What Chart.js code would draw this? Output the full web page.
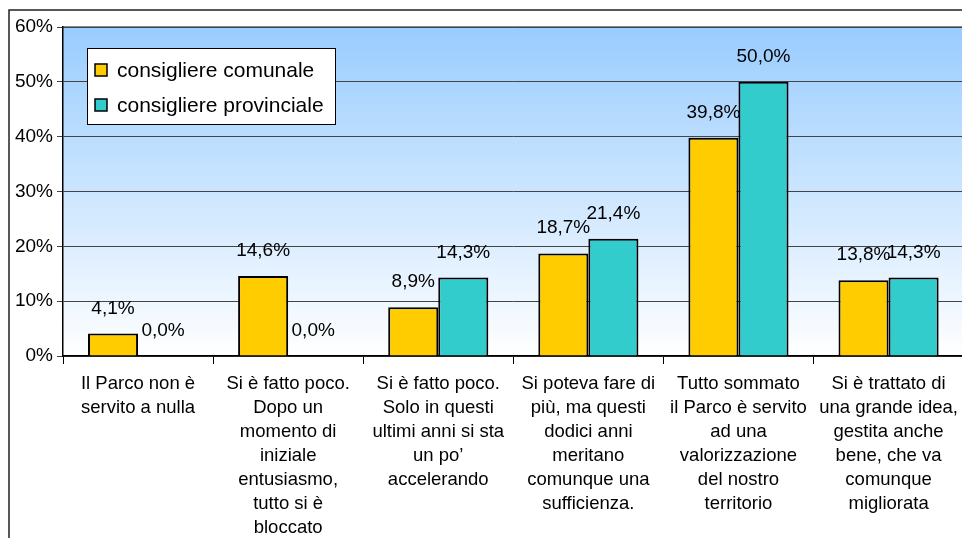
<!DOCTYPE html>
<html>
<head>
<meta charset="utf-8">
<script src="https://cdn.jsdelivr.net/npm/chart.js@4/dist/chart.umd.min.js"></script>
<style>
	html, body { margin: 0; padding: 0; background: #fff; }
	#wrap { width: 962px; height: 538px; position: relative; overflow: hidden; }
</style>
</head>
<body>
<div id="wrap"><canvas id="chart" width="966" height="538"></canvas></div>
<script>
// data
var categories = [
	["Il Parco non è", "servito a nulla"],
	["Si è fatto poco.", "Dopo un", "momento di", "iniziale", "entusiasmo,", "tutto si è", "bloccato"],
	["Si è fatto poco.", "Solo in questi", "ultimi anni si sta", "un po’", "accelerando"],
	["Si poteva fare di", "più, ma questi", "dodici anni", "meritano", "comunque una", "sufficienza."],
	["Tutto sommato", "il Parco è servito", "ad una", "valorizzazione", "del nostro", "territorio"],
	["Si è trattato di", "una grande idea,", "gestita anche", "bene, che va", "comunque", "migliorata"]
];
var comunale = [4.1, 14.6, 8.9, 18.7, 39.8, 13.8];
var provinciale = [0.0, 0.0, 14.3, 21.4, 50.0, 14.3];
var seriesNames = ["consigliere comunale", "consigliere provinciale"];
var yTicks = [0, 10, 20, 30, 40, 50, 60];

var FONT = '"Liberation Sans", Arial, sans-serif';

function fmt(v) {
	return v.toFixed(1).replace('.', ',') + '%';
}

// frame, plot background
var backdrop = {
	id: 'backdrop',
	beforeDraw: function(chart) {
		var ctx = chart.ctx, a = chart.chartArea;
		ctx.save();
		ctx.fillStyle = '#fff';
		ctx.fillRect(0, 0, chart.width, chart.height);
		ctx.strokeStyle = '#222';
		ctx.lineWidth = 1.5;
		ctx.beginPath();
		ctx.moveTo(chart.width, 10);
		ctx.lineTo(9, 10);
		ctx.lineTo(9, chart.height);
		ctx.stroke();
		var g = ctx.createLinearGradient(0, a.top, 0, a.bottom);
		g.addColorStop(0, '#99ccff');
		g.addColorStop(1, '#ffffff');
		ctx.fillStyle = g;
		ctx.fillRect(a.left, a.top, a.right - a.left, a.bottom - a.top);
		ctx.strokeStyle = '#888';
		ctx.lineWidth = 2;
		ctx.beginPath();
		ctx.moveTo(a.left, a.top);
		ctx.lineTo(a.right, a.top);
		ctx.stroke();
		ctx.restore();
	}
};

// value labels above the bars
var valueLabels = {
	id: 'valueLabels',
	afterDatasetsDraw: function(chart) {
		var ctx = chart.ctx;
		ctx.save();
		ctx.font = '19px ' + FONT;
		ctx.fillStyle = '#000';
		ctx.textAlign = 'center';
		ctx.textBaseline = 'alphabetic';
		chart.data.datasets.forEach(function(ds, i) {
			chart.getDatasetMeta(i).data.forEach(function(bar, j) {
				ctx.fillText(fmt(ds.data[j]), bar.x, bar.y - 20);
			});
		});
		ctx.restore();
	}
};

// legend box inside the plot
var boxLegend = {
	id: 'boxLegend',
	afterDraw: function(chart) {
		var ctx = chart.ctx, a = chart.chartArea;
		var x = a.left + 24, y = a.top + 21, w = 248, h = 76;
		ctx.save();
		ctx.fillStyle = '#fff';
		ctx.fillRect(x, y, w, h);
		ctx.strokeStyle = '#000';
		ctx.lineWidth = 1;
		ctx.strokeRect(x + 0.5, y + 0.5, w, h);
		ctx.font = '21px ' + FONT;
		ctx.textBaseline = 'middle';
		chart.data.datasets.forEach(function(ds, i) {
			var cy = y + 22 + i * 35;
			ctx.fillStyle = ds.backgroundColor;
			ctx.fillRect(x + 8, cy - 6, 12, 12);
			ctx.lineWidth = 1.5;
			ctx.strokeStyle = '#000';
			ctx.strokeRect(x + 8, cy - 6, 12, 12);
			ctx.fillStyle = '#000';
			ctx.fillText(ds.label, x + 30, cy + 1);
		});
		ctx.restore();
	}
};

var chart = new Chart(document.getElementById('chart'), {
	type: 'bar',
	data: {
		labels: categories,
		datasets: [
			{ label: seriesNames[0], data: comunale, backgroundColor: '#ffcc00', borderColor: '#000', borderWidth: 2 },
			{ label: seriesNames[1], data: provinciale, backgroundColor: '#33cccc', borderColor: '#000', borderWidth: 2 }
		]
	},
	options: {
		responsive: false,
		animation: false,
		layout: { padding: { top: 27, left: 0, right: 0, bottom: 0 } },
		datasets: { bar: { categoryPercentage: 0.667, barPercentage: 1 } },
		plugins: {
			legend: { display: false },
			tooltip: { enabled: false }
		},
		scales: {
			x: {
				afterFit: function(s) { s.height = 538 - 356; },
				grid: { offset: true, drawOnChartArea: false, color: '#000', tickLength: 8 },
				border: { color: '#000', width: 1.5 },
				ticks: {
					color: '#000', maxRotation: 0, minRotation: 0, autoSkip: false, padding: 8,
					font: { family: FONT, size: 18.5, lineHeight: 1.3 }
				}
			},
			y: {
				min: 0, max: 60,
				afterFit: function(s) { s.width = 63; },
				afterBuildTicks: function(s) { s.ticks = yTicks.map(function(v) { return { value: v }; }); },
				grid: { color: '#444', tickLength: 6 },
				border: { color: '#000', width: 1.5 },
				ticks: {
					color: '#000', padding: 4,
					font: { family: FONT, size: 19 },
					callback: function(v) { return v + '%'; }
				}
			}
		}
	},
	plugins: [backdrop, valueLabels, boxLegend]
});
</script>
</body>
</html>
